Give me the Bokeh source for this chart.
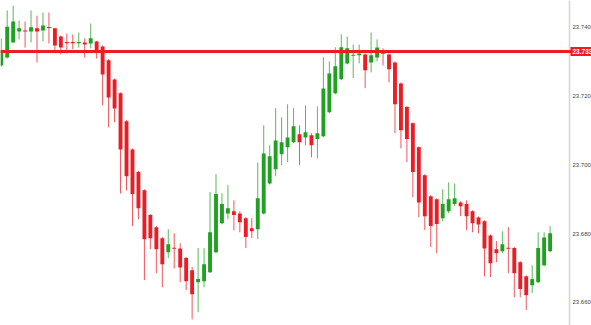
from bokeh.plotting import figure
from bokeh.models import ColumnDataSource, Range1d, FixedTicker, NumeralTickFormatter, Span, Label, LinearAxis
from bokeh.embed import file_html
from bokeh.resources import INLINE

# OHLC values
opens = [23.7289, 23.7312, 23.7356, 23.7388, 23.7391, 23.7388, 23.7397, 23.7391, 23.7401, 23.7397,
         23.7373, 23.7357, 23.7357, 23.7354, 23.7356, 23.7353, 23.7359, 23.7344, 23.7304, 23.7248,
         23.7208, 23.7127, 23.7045, 23.6979, 23.6926, 23.6854, 23.6819, 23.6787, 23.6746, 23.6759,
         23.6757, 23.6729, 23.6694, 23.6659, 23.6662, 23.6688, 23.6746, 23.6830, 23.6859, 23.6865,
         23.6859, 23.6845, 23.6816, 23.6813, 23.6859, 23.6946, 23.6987, 23.7031, 23.7051, 23.7066,
         23.7089, 23.7080, 23.7086, 23.7075, 23.7083, 23.7153, 23.7208, 23.7249, 23.7295, 23.7317,
         23.7319, 23.7321, 23.7298, 23.7312, 23.7325, 23.7321, 23.7298, 23.7237, 23.7168, 23.7121,
         23.7051, 23.6970, 23.6909, 23.6900, 23.6845, 23.6865, 23.6886, 23.6891, 23.6886, 23.6865,
         23.6847, 23.6836, 23.6795, 23.6755, 23.6749, 23.6759, 23.6758, 23.6717, 23.6676, 23.6650,
         23.6659, 23.6708, 23.6749]
highs = [23.7368, 23.7449, 23.7463, 23.7420, 23.7417, 23.7449, 23.7434, 23.7443, 23.7443, 23.7398,
         23.7376, 23.7382, 23.7379, 23.7385, 23.7368, 23.7411, 23.7361, 23.7347, 23.7307, 23.7251,
         23.7211, 23.7130, 23.7048, 23.6982, 23.6929, 23.6857, 23.6822, 23.6790, 23.6813, 23.6801,
         23.6772, 23.6732, 23.6703, 23.6758, 23.6758, 23.6921, 23.6973, 23.6917, 23.6941, 23.6897,
         23.6865, 23.6848, 23.6845, 23.7007, 23.7115, 23.7057, 23.7165, 23.7138, 23.7176, 23.7165,
         23.7115, 23.7173, 23.7092, 23.7170, 23.7313, 23.7301, 23.7342, 23.7380, 23.7373, 23.7350,
         23.7350, 23.7324, 23.7385, 23.7365, 23.7339, 23.7324, 23.7301, 23.7240, 23.7171, 23.7124,
         23.7054, 23.6973, 23.6912, 23.6903, 23.6929, 23.6949, 23.6946, 23.6894, 23.6897, 23.6868,
         23.6850, 23.6839, 23.6798, 23.6778, 23.6807, 23.6819, 23.6761, 23.6720, 23.6679, 23.6708,
         23.6804, 23.6804, 23.6822]
lows = [23.7286, 23.7309, 23.7356, 23.7365, 23.7341, 23.7356, 23.7298, 23.7359, 23.7353, 23.7333,
        23.7321, 23.7324, 23.7336, 23.7341, 23.7312, 23.7339, 23.7309, 23.7173, 23.7109, 23.7124,
        23.6917, 23.6926, 23.6822, 23.6842, 23.6665, 23.6755, 23.6685, 23.6644, 23.6729, 23.6699,
        23.6659, 23.6636, 23.6551, 23.6572, 23.6644, 23.6685, 23.6743, 23.6827, 23.6842, 23.6810,
        23.6804, 23.6758, 23.6787, 23.6784, 23.6856, 23.6943, 23.6967, 23.6999, 23.7008, 23.7063,
        23.6999, 23.7057, 23.7022, 23.7019, 23.7080, 23.7150, 23.7205, 23.7246, 23.7292, 23.7252,
        23.7295, 23.7223, 23.7269, 23.7301, 23.7289, 23.7240, 23.7092, 23.7048, 23.7008, 23.6906,
        23.6848, 23.6810, 23.6761, 23.6743, 23.6836, 23.6859, 23.6880, 23.6851, 23.6810, 23.6804,
        23.6801, 23.6676, 23.6674, 23.6717, 23.6743, 23.6685, 23.6615, 23.6615, 23.6578, 23.6627,
        23.6656, 23.6705, 23.6746]
closes = [23.7333, 23.7402, 23.7417, 23.7397, 23.7388, 23.7400, 23.7388, 23.7405, 23.7398, 23.7347,
          23.7341, 23.7354, 23.7354, 23.7357, 23.7350, 23.7368, 23.7333, 23.7263, 23.7196, 23.7164,
          23.7045, 23.6967, 23.6915, 23.6874, 23.6784, 23.6787, 23.6755, 23.6711, 23.6769, 23.6756,
          23.6702, 23.6662, 23.6624, 23.6668, 23.6711, 23.6804, 23.6915, 23.6886, 23.6874, 23.6854,
          23.6833, 23.6790, 23.6807, 23.6903, 23.7033, 23.7025, 23.7071, 23.7066, 23.7080, 23.7112,
          23.7066, 23.7095, 23.7057, 23.7092, 23.7222, 23.7266, 23.7287, 23.7342, 23.7339, 23.7320,
          23.7324, 23.7275, 23.7319, 23.7341, 23.7323, 23.7278, 23.7176, 23.7101, 23.7075, 23.6979,
          23.6891, 23.6851, 23.6822, 23.6828, 23.6886, 23.6900, 23.6903, 23.6880, 23.6851, 23.6830,
          23.6827, 23.6757, 23.6714, 23.6743, 23.6769, 23.6756, 23.6685, 23.6639, 23.6621, 23.6668,
          23.6758, 23.6789, 23.6801]

level_price = 23.733
level_label = "23.733"
tick_values = [23.660, 23.680, 23.700, 23.720, 23.740]

RED = "#ED1C24"
GREEN = "#21A121"

idx = list(range(len(opens)))
colors = [GREEN if c >= o else RED for o, c in zip(opens, closes)]
src = ColumnDataSource(dict(
    x=idx, open=opens, high=highs, low=lows, close=closes,
    top=[max(o, c) for o, c in zip(opens, closes)],
    bottom=[min(o, c) for o, c in zip(opens, closes)],
    color=colors,
))

# frame covers the whole width; the price axis sits at a fixed spot inside it
X0, X1 = -0.12, 98.94
AXIS_X = 95.25
p = figure(width=591, height=325, output_backend="svg", toolbar_location=None,
           x_axis_location=None, y_axis_location=None,
           x_range=Range1d(X0, X1), y_range=Range1d(23.6533, 23.7478))
p.min_border_left = 0
p.min_border_top = 0
p.min_border_bottom = 0
p.min_border_right = 0
p.outline_line_color = None
p.background_fill_color = "white"
p.border_fill_color = "white"
p.xgrid.visible = False
p.ygrid.visible = False

ax = LinearAxis(fixed_location=AXIS_X)
ax.ticker = FixedTicker(ticks=tick_values)
ax.formatter = NumeralTickFormatter(format="0.000")
ax.major_tick_line_color = None
ax.minor_tick_line_color = None
ax.major_tick_out = 0
ax.major_tick_in = 0
ax.minor_tick_out = 0
ax.minor_tick_in = 0
ax.axis_line_color = "#d4d4d4"
ax.axis_line_width = 1.5
ax.major_label_standoff = 3
ax.major_label_text_font = "Liberation Sans"
ax.major_label_text_font_size = "6px"
ax.major_label_text_color = "#444444"
p.add_layout(ax, "right")

p.segment(x0="x", y0="low", x1="x", y1="high", source=src, line_color="color",
          line_width=1, line_alpha=0.75)
p.vbar(x="x", top="top", bottom="bottom", width=0.65, source=src,
       fill_color="color", line_color=None)

p.add_layout(Span(location=level_price, dimension="width", line_color=RED, line_width=3))
p.add_layout(Label(x=AXIS_X + 0.17, y=level_price, text=level_label, text_color="white",
                   text_font="Liberation Sans", text_font_size="6.5px", text_font_style="bold",
                   text_baseline="middle", text_align="left",
                   background_fill_color=RED, padding=2))

open("out.html", "w").write(file_html(p, INLINE))
